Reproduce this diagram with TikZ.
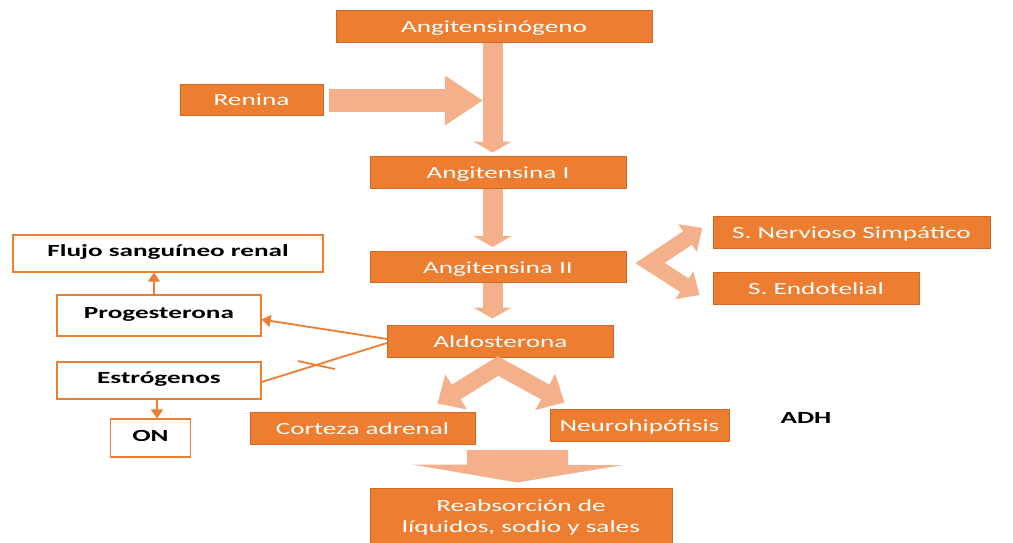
\documentclass[tikz,border=0pt]{standalone}
\usepackage{fontspec}
\setmainfont{Carlito}[FakeStretch=1.6]
\usetikzlibrary{arrows.meta}
\definecolor{naranja}{HTML}{ED7D31}
\definecolor{borde}{HTML}{CF6A26}
\definecolor{salmon}{HTML}{F4B08B}

\begin{document}
\begin{tikzpicture}[x=1pt, y=-1pt,
    caja/.style = {draw=borde, fill=naranja, text=white, line width=1pt, inner sep=0pt,
                   minimum height=32pt, text height=13pt, text depth=0.5pt,
                   font=\fontsize{17}{21}\selectfont},
    blanca/.style = {draw=naranja, fill=white, text=black, line width=1.2pt, inner sep=0pt,
                   text height=11pt, text depth=5pt, font=\fontsize{17}{21}\selectfont\bfseries},
    linea/.style = {draw=naranja, line width=1.8pt},
    flecha/.style = {linea, -{Triangle[length=9pt,width=12pt]}},
    gorda/.style = {draw=salmon, line width=20pt}]
    \useasboundingbox (0,0) rectangle (1013,542);

    % cadena principal
    \node[caja, minimum width=316pt] (ang0) at (494,26) {Angitensinógeno};
    \node[caja, minimum width=143pt, minimum height=31pt] (renina) at (251.5,99.5) {Renina};
    \node[caja, minimum width=256pt] (ang1) at (498,172) {Angitensina I};
    \node[caja, minimum width=256pt, minimum height=31pt] (ang2) at (498,267) {Angitensina II};
    \node[caja, minimum width=226pt] (aldo) at (500.5,341) {Aldosterona};
    \node[caja, minimum width=277pt] (sns) at (851.5,232) {S. Nervioso Simpático};
    \node[caja, minimum width=206pt] (endo) at (816,288) {S. Endotelial};

    % lado izquierdo
    \node[blanca, minimum width=310pt, minimum height=37pt] (flujo) at (168,253.5) {Flujo sanguíneo renal};
    \node[blanca, minimum width=204pt, minimum height=41pt] (prog) at (159,315.5) {Progesterona};
    \node[blanca, minimum width=204pt, minimum height=37pt] (estr) at (159,380.5) {Estrógenos};
    \node[blanca, minimum width=80pt, minimum height=38pt] (on) at (150.5,438) {ON};

    % parte baja
    \node[caja, minimum width=225pt] (corteza) at (362.5,428) {Corteza adrenal};
    \node[caja, minimum width=179pt] (neuro) at (639.5,425) {Neurohipófisis};
    \node[font=\fontsize{17}{21}\selectfont\bfseries, inner sep=0pt] (adh) at (806,418) {ADH};
    \node[caja, minimum width=302pt, minimum height=58pt, align=center,
          text height=, text depth=] (reab) at (521,517) {Reabsorción de\\líquidos, sodio y sales};

    \coordinate (union) at (483,100.5);
    \coordinate (v1) at (650,263);
    \coordinate (v2) at (498,366);
    \coordinate (fuente) at (517.5,450);

    % flechas gruesas
    \draw[gorda, -{Triangle[length=11pt,width=38pt]}] ([xshift=-1.5pt]ang0.south) -- ([xshift=-5.5pt,yshift=3pt]ang1.north);
    \draw[gorda, line width=23pt, -{Triangle[length=38pt,width=47pt]}] ([xshift=5pt,yshift=-1pt]renina.east) -- (union);
    \draw[gorda, -{Triangle[length=11pt,width=38pt]}] ([xshift=-5.5pt]ang1.south) -- ([xshift=-5.5pt,yshift=4pt]ang2.north);
    \draw[gorda, -{Triangle[length=11pt,width=38pt]}] ([xshift=-5.5pt]ang2.south) -- ([xshift=-8pt,yshift=6pt]aldo.north);
    \draw[gorda, line width=16pt, line join=miter, {Triangle[length=18pt,width=32pt]}-{Triangle[length=18pt,width=32pt]}]
        ([xshift=-10pt,yshift=4pt]sns.west) -- (v1) -- ([xshift=-13pt,yshift=-7pt]endo.west);
    \draw[gorda, line width=17pt, line join=miter, {Triangle[length=22pt,width=40pt]}-{Triangle[length=22pt,width=40pt]}]
        ([xshift=-38pt,yshift=8pt]corteza.north east) -- (v2) -- ([xshift=15pt,yshift=6pt]neuro.north west);
    % flecha ancha hacia la reabsorcion
    \fill[salmon] (fuente) ++(-50.5,0) -- ++(101,0) -- ++(0,15) -- ++(55,0)
        -- ([xshift=-3.5pt,yshift=5pt]reab.north) -- ++(-105.5,-18) -- ++(55,0) -- cycle;

    % flechas finas
    \draw[flecha] ([yshift=2pt]aldo.west) -- ([yshift=-4pt]prog.east);
    \draw[linea] ([yshift=-2pt]aldo.west) -- coordinate[pos=0.564] (corte) ([yshift=-1.5pt]estr.east);
    \draw[linea] (corte) ++(-18.5,-4) -- ++(37,8);
    \draw[flecha] ([xshift=-5pt]prog.north) -- ([xshift=-14pt]flujo.south);
    \draw[flecha] ([xshift=-2pt]estr.south) -- ([xshift=6.5pt]on.north);
\end{tikzpicture}
\end{document}
